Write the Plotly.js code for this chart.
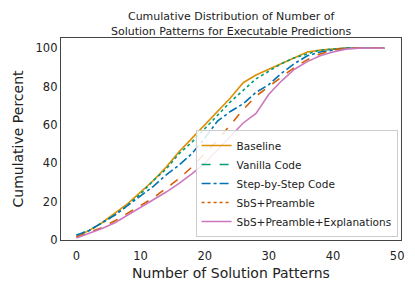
<!DOCTYPE html>
<html><head><meta charset="utf-8">
<script src="https://cdn.plot.ly/plotly-3.0.1.min.js"></script>
<style>html,body{margin:0;padding:0;background:#fff}#c{width:415px;height:290px}</style>
</head><body><div id="c"></div>
<script>
const xs = [0,2,4,6,8,10,12,14,16,18,20,22,24,26,28,30,32,34,36,38,40,42,44,46,48];
const baseline    = [1.5,5,9,14,19,25,31,38,46,53,60,67,74,82,86,89,92,95,98,99,99.5,100,100,100,100];
const vanilla     = [2.5,5,9,13,18,24,31,37,45,51,58,65,72,78,84,88,92,95,97,99,99.5,100,100,100,100];
const stepByStep  = [2.5,5,9,13,18,23,28,34,39,45,53,62,67,71,77,81,87,92,96,98,99,100,100,100,100];
const sbsPreamble = [1.5,4,6.5,10,14,18,22,27,32,38,45,52,60,68,75,80,85,90,94,97,99,100,100,100,100];
const sbsExpl     = [1,3.5,6,9,13,17,21,25,29.5,34.5,40,47,54,61,66,76,83,89,93,96,98,99.5,100,100,100];

const names = ["Baseline","Vanilla Code","Step-by-Step Code","SbS+Preamble","SbS+Preamble+Explanations"];
const series = [baseline, vanilla, stepByStep, sbsPreamble, sbsExpl];
const colors = ["#DE8F05","#029E73","#0173B2","#D55E00","#CC78BC"];
const plotDash = ["solid","dot","dashdot","dash","solid"];
const legendDash = ["solid","dash","dashdot","dot","solid"];

const traces = [];
series.forEach((s,i)=>{
  traces.push({x:xs, y:s, type:"scatter", mode:"lines", showlegend:false,
    line:{color:colors[i], width:1.6, dash:plotDash[i]}});
});
series.forEach((s,i)=>{
  traces.push({x:[null], y:[null], type:"scatter", mode:"lines", name:names[i],
    line:{color:colors[i], width:1.6, dash:legendDash[i]}});
});

const layout = {
  width:415, height:290,
  margin:{l:61, r:14, t:38, b:50},
  paper_bgcolor:"#fff", plot_bgcolor:"#fff",
  font:{family:"DejaVu Sans", color:"#222"},
  title:{text:"Cumulative Distribution of Number of<br>Solution Patterns for Executable Predictions",
    font:{size:11, color:"#222"}, x:0.557, xanchor:"center", yref:"container", y:0.93, yanchor:"middle"},
  xaxis:{range:[-2.4,50.6], tickvals:[0,10,20,30,40,50], showgrid:false, zeroline:false,
    showline:true, mirror:true, linecolor:"#444", linewidth:1.2, ticks:"", ticklen:0,
    ticklabelstandoff:5,
    tickfont:{size:11.5, color:"#222"},
    title:{text:"Number of Solution Patterns", font:{size:14, color:"#222"}, standoff:6}},
  yaxis:{range:[0,105.3], tickvals:[0,20,40,60,80,100], showgrid:false, zeroline:false,
    showline:true, mirror:true, linecolor:"#444", linewidth:1.2, ticks:"", ticklen:0,
    tickfont:{size:11.5, color:"#222"},
    title:{text:"Cumulative Percent", font:{size:14, color:"#222"}, standoff:8}},
  legend:{x:0.99, xanchor:"right", y:0.015, yanchor:"bottom",
    bgcolor:"rgba(255,255,255,0.85)", bordercolor:"#ccc", borderwidth:1,
    font:{size:10.5, color:"#222"}, tracegroupgap:0, itemwidth:30}
};
Plotly.newPlot("c", traces, layout, {displayModeBar:false, staticPlot:true});
</script></body></html>
